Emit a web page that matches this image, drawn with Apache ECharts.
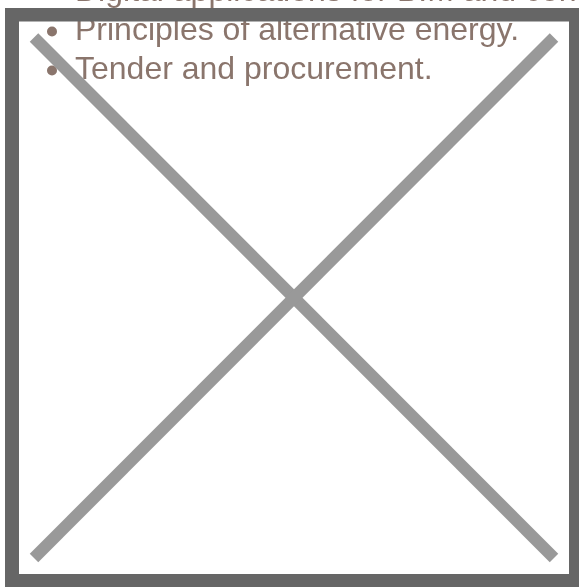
<!DOCTYPE html>
<html>
<head>
<meta charset="utf-8">
<script src="https://cdn.jsdelivr.net/npm/echarts@6/dist/echarts.min.js"></script>
<style>
  html, body { margin: 0; padding: 0; background: #fff; }
  #chart { width: 579px; height: 587px; }
</style>
</head>
<body>
<div id="chart"></div>
<script>
// bullet lines behind the placeholder
var bulletLines = [
  'Digital applications for BIM and construction.',
  'Principles of alternative energy.',
  'Tender and procurement.'
];
// the two diagonals of the "missing image" cross, in unit coordinates
var crossDown = [[0, 1], [1, 0]];
var crossUp = [[0, 0], [1, 1]];

var chart = echarts.init(document.getElementById('chart'));

var textColor = '#8a756c';
var frameColor = '#666666';
var firstBaseline = 2;
var lineGap = 39;

var graphics = [];
bulletLines.forEach(function (t, i) {
  var base = firstBaseline + i * lineGap;
  graphics.push({
    type: 'circle',
    z: 1,
    shape: { cx: 52, cy: base - 9.5, r: 5 },
    style: { fill: textColor }
  });
  graphics.push({
    type: 'text',
    z: 1,
    x: 75,
    y: base - 10,
    style: {
      text: t,
      font: '32px "Liberation Sans", Arial, sans-serif',
      fill: textColor,
      verticalAlign: 'middle'
    }
  });
});
// frame
[[5, 8, 574, 13.5], [5, 574, 574, 13], [5, 8, 14, 579], [569, 8, 10, 579]].forEach(function (r) {
  graphics.push({
    type: 'rect',
    z: 50,
    shape: { x: r[0], y: r[1], width: r[2], height: r[3] },
    style: { fill: frameColor }
  });
});

var option = {
  backgroundColor: '#ffffff',
  animation: false,
  grid: { left: 34, right: 25, top: 37.5, bottom: 29 },
  xAxis: { type: 'value', min: 0, max: 1, show: false },
  yAxis: { type: 'value', min: 0, max: 1, show: false },
  graphic: graphics,
  series: [
    {
      type: 'line',
      z: 10,
      data: crossDown,
      showSymbol: false,
      lineStyle: { color: '#999999', width: 12, cap: 'butt' }
    },
    {
      type: 'line',
      z: 10,
      data: crossUp,
      showSymbol: false,
      lineStyle: { color: '#999999', width: 12, cap: 'butt' }
    }
  ]
};
chart.setOption(option);
</script>
</body>
</html>
